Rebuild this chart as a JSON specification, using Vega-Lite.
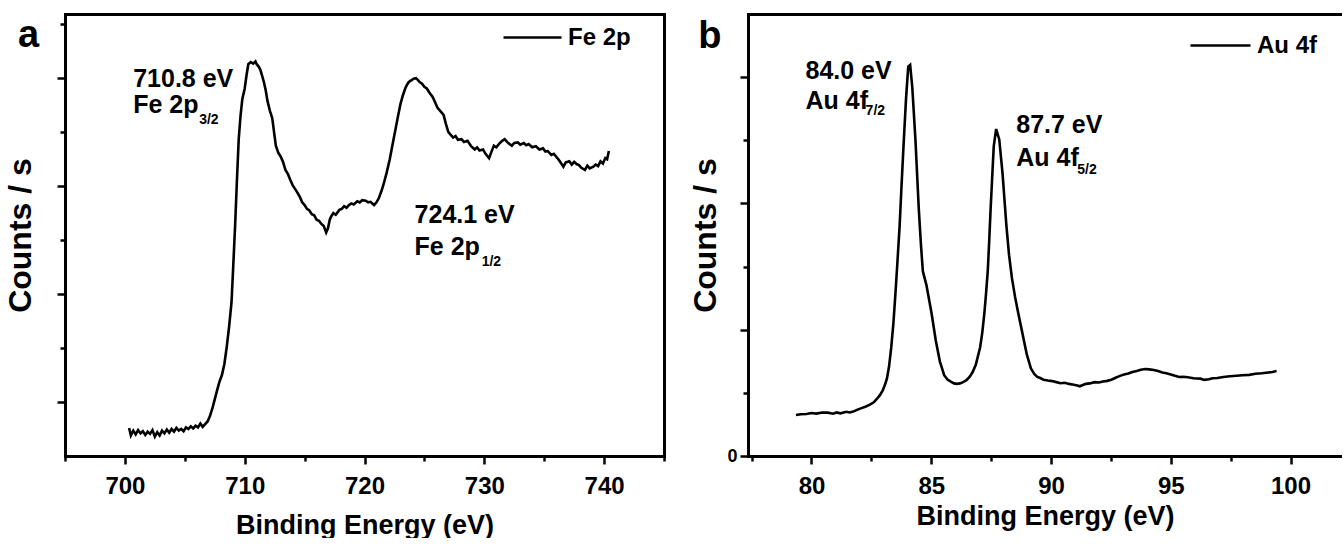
{
  "$schema": "https://vega.github.io/schema/vega-lite/v6.json",
  "padding": {"left": 4, "top": 7, "right": 0, "bottom": 0},
  "background": "white",
  "bounds": "flush",
  "spacing": 84,
  "resolve": {"scale": {"color": "independent"}, "legend": {"color": "independent"}},
  "config": {
    "font": "Liberation Sans",
    "view": {"stroke": null},
    "axis": {
      "domainColor": "black", "domainWidth": 3, "domainCap": "square",
      "tickColor": "black", "tickWidth": 2.5, "grid": false,
      "labelFont": "Liberation Sans", "labelFontWeight": "bold", "labelFontSize": 24, "labelColor": "black",
      "titleFont": "Liberation Sans", "titleFontWeight": "bold", "titleColor": "black"
    },
    "text": {"font": "Liberation Sans", "fontWeight": "bold", "color": "black"}
  },
  "datasets": {
    "fe": [
      {"be":700.35,"cps":0.52},{"be":700.5,"cps":0.38},{"be":700.7,"cps":0.47},{"be":700.9,"cps":0.40},{"be":701.1,"cps":0.48},{"be":701.3,"cps":0.42},{"be":701.5,"cps":0.46},{"be":701.7,"cps":0.39},{"be":701.9,"cps":0.45},{"be":702.1,"cps":0.41},{"be":702.3,"cps":0.48},{"be":702.5,"cps":0.36},{"be":702.7,"cps":0.44},{"be":702.9,"cps":0.38},{"be":703.1,"cps":0.47},{"be":703.3,"cps":0.42},{"be":703.5,"cps":0.49},{"be":703.7,"cps":0.43},{"be":703.9,"cps":0.50},{"be":704.1,"cps":0.45},{"be":704.3,"cps":0.52},{"be":704.5,"cps":0.47},{"be":704.7,"cps":0.50},{"be":704.9,"cps":0.46},{"be":705.1,"cps":0.53},{"be":705.3,"cps":0.50},{"be":705.5,"cps":0.55},{"be":705.7,"cps":0.51},{"be":705.9,"cps":0.56},{"be":706.1,"cps":0.53},{"be":706.3,"cps":0.60},{"be":706.5,"cps":0.54},{"be":706.7,"cps":0.59},{"be":706.9,"cps":0.64},{"be":707.1,"cps":0.74},{"be":707.3,"cps":0.88},{"be":707.5,"cps":1.05},{"be":707.7,"cps":1.22},{"be":707.9,"cps":1.38},{"be":708.1,"cps":1.50},{"be":708.3,"cps":1.70},{"be":708.5,"cps":2.02},{"be":708.7,"cps":2.40},{"be":708.9,"cps":2.85},{"be":709.05,"cps":3.55},{"be":709.2,"cps":4.27},{"be":709.35,"cps":5.10},{"be":709.5,"cps":5.87},{"be":709.65,"cps":6.30},{"be":709.8,"cps":6.61},{"be":710.0,"cps":6.81},{"be":710.15,"cps":7.05},{"be":710.3,"cps":7.26},{"be":710.5,"cps":7.30},{"be":710.7,"cps":7.27},{"be":710.9,"cps":7.31},{"be":711.0,"cps":7.26},{"be":711.15,"cps":7.22},{"be":711.3,"cps":7.16},{"be":711.45,"cps":7.05},{"be":711.6,"cps":6.93},{"be":711.75,"cps":6.78},{"be":711.9,"cps":6.58},{"be":712.1,"cps":6.40},{"be":712.3,"cps":6.26},{"be":712.45,"cps":6.00},{"be":712.6,"cps":5.75},{"be":712.8,"cps":5.62},{"be":713.0,"cps":5.55},{"be":713.2,"cps":5.45},{"be":713.4,"cps":5.30},{"be":713.6,"cps":5.23},{"be":713.8,"cps":5.12},{"be":714.0,"cps":5.02},{"be":714.2,"cps":4.95},{"be":714.4,"cps":4.88},{"be":714.6,"cps":4.80},{"be":714.8,"cps":4.70},{"be":715.0,"cps":4.65},{"be":715.2,"cps":4.58},{"be":715.4,"cps":4.55},{"be":715.6,"cps":4.48},{"be":715.8,"cps":4.46},{"be":716.0,"cps":4.38},{"be":716.2,"cps":4.36},{"be":716.4,"cps":4.30},{"be":716.6,"cps":4.26},{"be":716.8,"cps":4.14},{"be":716.95,"cps":4.22},{"be":717.1,"cps":4.38},{"be":717.2,"cps":4.43},{"be":717.4,"cps":4.50},{"be":717.6,"cps":4.47},{"be":717.9,"cps":4.56},{"be":718.1,"cps":4.58},{"be":718.3,"cps":4.63},{"be":718.5,"cps":4.60},{"be":718.7,"cps":4.65},{"be":718.9,"cps":4.68},{"be":719.1,"cps":4.66},{"be":719.4,"cps":4.72},{"be":719.6,"cps":4.70},{"be":719.8,"cps":4.74},{"be":720.1,"cps":4.73},{"be":720.3,"cps":4.70},{"be":720.5,"cps":4.71},{"be":720.8,"cps":4.65},{"be":721.0,"cps":4.70},{"be":721.2,"cps":4.78},{"be":721.4,"cps":4.90},{"be":721.6,"cps":5.04},{"be":721.85,"cps":5.25},{"be":722.1,"cps":5.49},{"be":722.35,"cps":5.78},{"be":722.6,"cps":6.07},{"be":722.8,"cps":6.30},{"be":723.0,"cps":6.52},{"be":723.2,"cps":6.68},{"be":723.4,"cps":6.81},{"be":723.55,"cps":6.88},{"be":723.7,"cps":6.93},{"be":723.9,"cps":6.96},{"be":724.1,"cps":6.99},{"be":724.3,"cps":7.00},{"be":724.45,"cps":6.97},{"be":724.6,"cps":6.93},{"be":724.8,"cps":6.90},{"be":725.0,"cps":6.84},{"be":725.2,"cps":6.81},{"be":725.4,"cps":6.74},{"be":725.7,"cps":6.65},{"be":725.9,"cps":6.55},{"be":726.1,"cps":6.45},{"be":726.3,"cps":6.40},{"be":726.6,"cps":6.32},{"be":726.8,"cps":6.15},{"be":727.0,"cps":6.00},{"be":727.2,"cps":5.95},{"be":727.4,"cps":5.90},{"be":727.6,"cps":5.93},{"be":727.8,"cps":5.86},{"be":728.1,"cps":5.87},{"be":728.3,"cps":5.82},{"be":728.6,"cps":5.84},{"be":728.9,"cps":5.74},{"be":729.2,"cps":5.68},{"be":729.4,"cps":5.72},{"be":729.6,"cps":5.66},{"be":729.9,"cps":5.68},{"be":730.1,"cps":5.60},{"be":730.4,"cps":5.52},{"be":730.6,"cps":5.64},{"be":730.8,"cps":5.75},{"be":731.0,"cps":5.72},{"be":731.3,"cps":5.80},{"be":731.5,"cps":5.84},{"be":731.7,"cps":5.87},{"be":731.9,"cps":5.82},{"be":732.1,"cps":5.78},{"be":732.3,"cps":5.75},{"be":732.5,"cps":5.80},{"be":732.8,"cps":5.81},{"be":733.0,"cps":5.77},{"be":733.3,"cps":5.80},{"be":733.5,"cps":5.76},{"be":733.7,"cps":5.78},{"be":734.0,"cps":5.72},{"be":734.3,"cps":5.74},{"be":734.6,"cps":5.68},{"be":734.9,"cps":5.70},{"be":735.1,"cps":5.64},{"be":735.3,"cps":5.65},{"be":735.6,"cps":5.58},{"be":735.8,"cps":5.60},{"be":736.1,"cps":5.52},{"be":736.3,"cps":5.46},{"be":736.6,"cps":5.36},{"be":736.8,"cps":5.44},{"be":737.1,"cps":5.46},{"be":737.3,"cps":5.40},{"be":737.5,"cps":5.45},{"be":737.7,"cps":5.41},{"be":737.9,"cps":5.39},{"be":738.1,"cps":5.34},{"be":738.4,"cps":5.30},{"be":738.6,"cps":5.38},{"be":738.8,"cps":5.33},{"be":739.1,"cps":5.36},{"be":739.3,"cps":5.40},{"be":739.5,"cps":5.37},{"be":739.7,"cps":5.46},{"be":739.9,"cps":5.42},{"be":740.1,"cps":5.52},{"be":740.25,"cps":5.50},{"be":740.4,"cps":5.65}
    ],
    "au": [
      {"be":79.35,"cps":0.648},{"be":79.55,"cps":0.660},{"be":79.79,"cps":0.665},{"be":80.0,"cps":0.680},{"be":80.2,"cps":0.672},{"be":80.45,"cps":0.690},{"be":80.68,"cps":0.687},{"be":80.9,"cps":0.670},{"be":81.05,"cps":0.690},{"be":81.21,"cps":0.676},{"be":81.45,"cps":0.700},{"be":81.6,"cps":0.690},{"be":81.74,"cps":0.703},{"be":81.9,"cps":0.730},{"be":82.09,"cps":0.758},{"be":82.25,"cps":0.780},{"be":82.44,"cps":0.813},{"be":82.6,"cps":0.850},{"be":82.71,"cps":0.895},{"be":82.85,"cps":0.960},{"be":82.97,"cps":1.033},{"be":83.06,"cps":1.120},{"be":83.15,"cps":1.225},{"be":83.24,"cps":1.420},{"be":83.33,"cps":1.719},{"be":83.42,"cps":2.100},{"be":83.50,"cps":2.542},{"be":83.59,"cps":3.080},{"be":83.68,"cps":3.640},{"be":83.75,"cps":4.200},{"be":83.82,"cps":4.738},{"be":83.89,"cps":5.250},{"be":83.95,"cps":5.672},{"be":84.04,"cps":6.166},{"be":84.12,"cps":6.193},{"be":84.21,"cps":5.836},{"be":84.34,"cps":5.013},{"be":84.48,"cps":3.915},{"be":84.57,"cps":3.350},{"be":84.65,"cps":2.927},{"be":84.80,"cps":2.707},{"be":85.01,"cps":2.268},{"be":85.19,"cps":1.829},{"be":85.36,"cps":1.499},{"be":85.54,"cps":1.280},{"be":85.68,"cps":1.210},{"be":85.80,"cps":1.181},{"be":85.95,"cps":1.150},{"be":86.07,"cps":1.142},{"be":86.2,"cps":1.150},{"be":86.33,"cps":1.170},{"be":86.47,"cps":1.200},{"be":86.60,"cps":1.252},{"be":86.73,"cps":1.330},{"be":86.86,"cps":1.444},{"be":87.04,"cps":1.719},{"be":87.13,"cps":1.950},{"be":87.22,"cps":2.268},{"be":87.29,"cps":2.580},{"be":87.36,"cps":2.927},{"be":87.42,"cps":3.400},{"be":87.48,"cps":3.915},{"be":87.55,"cps":4.450},{"be":87.61,"cps":4.903},{"be":87.71,"cps":5.178},{"be":87.84,"cps":5.013},{"be":87.98,"cps":4.464},{"be":88.06,"cps":4.050},{"be":88.14,"cps":3.640},{"be":88.25,"cps":3.180},{"be":88.37,"cps":2.817},{"be":88.50,"cps":2.520},{"be":88.63,"cps":2.268},{"be":88.81,"cps":1.938},{"be":88.99,"cps":1.609},{"be":89.16,"cps":1.389},{"be":89.3,"cps":1.300},{"be":89.43,"cps":1.252},{"be":89.55,"cps":1.235},{"be":89.69,"cps":1.208},{"be":89.87,"cps":1.195},{"be":90.05,"cps":1.186},{"be":90.22,"cps":1.170},{"be":90.40,"cps":1.153},{"be":90.58,"cps":1.160},{"be":90.75,"cps":1.142},{"be":90.95,"cps":1.130},{"be":91.1,"cps":1.115},{"be":91.20,"cps":1.104},{"be":91.33,"cps":1.125},{"be":91.46,"cps":1.142},{"be":91.62,"cps":1.150},{"be":91.82,"cps":1.170},{"be":92.0,"cps":1.165},{"be":92.17,"cps":1.181},{"be":92.35,"cps":1.190},{"be":92.52,"cps":1.208},{"be":92.7,"cps":1.240},{"be":92.88,"cps":1.269},{"be":93.05,"cps":1.290},{"be":93.23,"cps":1.307},{"be":93.4,"cps":1.330},{"be":93.58,"cps":1.345},{"be":93.75,"cps":1.365},{"be":93.94,"cps":1.378},{"be":94.1,"cps":1.372},{"be":94.29,"cps":1.362},{"be":94.47,"cps":1.345},{"be":94.65,"cps":1.323},{"be":94.82,"cps":1.310},{"be":95.00,"cps":1.291},{"be":95.18,"cps":1.270},{"be":95.35,"cps":1.252},{"be":95.52,"cps":1.255},{"be":95.71,"cps":1.247},{"be":95.95,"cps":1.232},{"be":96.24,"cps":1.225},{"be":96.4,"cps":1.205},{"be":96.59,"cps":1.214},{"be":96.75,"cps":1.232},{"be":96.94,"cps":1.236},{"be":97.2,"cps":1.250},{"be":97.47,"cps":1.263},{"be":97.75,"cps":1.272},{"be":98.00,"cps":1.280},{"be":98.27,"cps":1.285},{"be":98.54,"cps":1.302},{"be":98.8,"cps":1.310},{"be":99.07,"cps":1.323},{"be":99.25,"cps":1.330},{"be":99.42,"cps":1.345}
    ],
    "annA": [
      {"x":700.69,"y":6.83,"t":"710.8 eV","k":"main"},
      {"x":700.69,"y":6.35,"t":"Fe 2p","k":"main"},
      {"x":706.2,"y":6.15,"t":"3/2","k":"sub"},
      {"x":724.18,"y":4.31,"t":"724.1 eV","k":"main"},
      {"x":724.18,"y":3.72,"t":"Fe 2p","k":"main"},
      {"x":729.78,"y":3.52,"t":"1/2","k":"sub"},
      {"x":691.95,"y":7.57,"t":"a","k":"letter"}
    ],
    "annB": [
      {"x":79.75,"y":5.975,"t":"84.0 eV","k":"main"},
      {"x":79.75,"y":5.50,"t":"Au 4f","k":"main"},
      {"x":82.26,"y":5.405,"t":"7/2","k":"sub"},
      {"x":88.55,"y":5.12,"t":"87.7 eV","k":"main"},
      {"x":88.55,"y":4.60,"t":"Au 4f","k":"main"},
      {"x":91.1,"y":4.47,"t":"5/2","k":"sub"},
      {"x":75.76,"y":6.465,"t":"b","k":"letter"}
    ]
  },
  "hconcat": [
    {
      "width": 599,
      "height": 442,
      "resolve": {"axis": {"x": "independent", "y": "independent"}},
      "layer": [
        {
          "data": {"name": "fe"},
          "mark": {"type": "line", "strokeWidth": 2.6, "color": "black"},
          "encoding": {
            "x": {"field": "be", "type": "quantitative", "scale": {"domain": [695, 745], "nice": false, "zero": false},
              "axis": {"orient": "bottom", "values": [700, 710, 720, 730, 740], "tickSize": 8, "labelPadding": 10, "title": "Binding Energy (eV)", "titleFontSize": 27, "titlePadding": 14}},
            "y": {"field": "cps", "type": "quantitative", "scale": {"domain": [0, 8.19], "nice": false, "zero": false},
              "axis": {"orient": "left", "values": [1, 3, 5, 7], "tickSize": 8, "labels": false, "title": "Counts / s", "titleFontSize": 32, "titlePadding": 18}},
            "color": {"datum": "Fe 2p", "type": "nominal", "scale": {"range": ["black"]},
              "legend": {"title": null, "orient": "none", "legendX": 437, "legendY": -7, "symbolType": "stroke", "symbolSize": 3364, "symbolStrokeWidth": 2.6, "symbolStrokeColor": "black", "labelFontSize": 24, "labelFont": "Liberation Sans", "labelFontWeight": "bold", "labelColor": "black", "labelOffset": 5, "padding": 0}}
          }
        },
        {
          "data": {"name": "fe"},
          "mark": {"type": "point", "opacity": 0},
          "encoding": {
            "x": {"field": "be", "type": "quantitative", "scale": {"domain": [695, 745], "nice": false, "zero": false},
              "axis": {"orient": "bottom", "values": [695, 705, 715, 725, 735, 745], "tickSize": 5, "labels": false, "domain": false, "title": null}},
            "y": {"field": "cps", "type": "quantitative", "scale": {"domain": [0, 8.19], "nice": false, "zero": false},
              "axis": {"orient": "left", "values": [2, 4, 6, 8], "tickSize": 5, "labels": false, "domain": false, "title": null}}
          }
        },
        {
          "data": {"name": "fe"},
          "mark": {"type": "point", "opacity": 0},
          "encoding": {
            "x": {"field": "be", "type": "quantitative", "scale": {"domain": [695, 745], "nice": false, "zero": false},
              "axis": {"orient": "top", "ticks": false, "labels": false, "domain": true, "title": null}},
            "y": {"field": "cps", "type": "quantitative", "scale": {"domain": [0, 8.19], "nice": false, "zero": false},
              "axis": {"orient": "right", "ticks": false, "labels": false, "domain": true, "title": null}}
          }
        },
        {
          "data": {"name": "annA"},
          "transform": [{"filter": "datum.k == 'main'"}],
          "mark": {"type": "text", "align": "left", "baseline": "alphabetic", "fontSize": 25},
          "encoding": {
            "x": {"field": "x", "type": "quantitative", "scale": {"domain": [695, 745], "nice": false, "zero": false}, "axis": null},
            "y": {"field": "y", "type": "quantitative", "scale": {"domain": [0, 8.19], "nice": false, "zero": false}, "axis": null},
            "text": {"field": "t"}
          }
        },
        {
          "data": {"name": "annA"},
          "transform": [{"filter": "datum.k == 'sub'"}],
          "mark": {"type": "text", "align": "left", "baseline": "alphabetic", "fontSize": 14},
          "encoding": {
            "x": {"field": "x", "type": "quantitative", "scale": {"domain": [695, 745], "nice": false, "zero": false}, "axis": null},
            "y": {"field": "y", "type": "quantitative", "scale": {"domain": [0, 8.19], "nice": false, "zero": false}, "axis": null},
            "text": {"field": "t"}
          }
        },
        {
          "data": {"name": "annA"},
          "transform": [{"filter": "datum.k == 'letter'"}],
          "mark": {"type": "text", "align": "center", "baseline": "alphabetic", "fontSize": 38},
          "encoding": {
            "x": {"field": "x", "type": "quantitative", "scale": {"domain": [695, 745], "nice": false, "zero": false}, "axis": null},
            "y": {"field": "y", "type": "quantitative", "scale": {"domain": [0, 8.19], "nice": false, "zero": false}, "axis": null},
            "text": {"field": "t"}
          }
        }
      ]
    },
    {
      "width": 594,
      "height": 442,
      "resolve": {"axis": {"x": "independent", "y": "independent"}},
      "layer": [
        {
          "data": {"name": "au"},
          "mark": {"type": "line", "strokeWidth": 2.6, "color": "black"},
          "encoding": {
            "x": {"field": "be", "type": "quantitative", "scale": {"domain": [77.35, 102.15], "nice": false, "zero": false},
              "axis": {"orient": "bottom", "values": [80, 85, 90, 95, 100], "tickSize": 8, "labelPadding": 10, "title": "Binding Energy (eV)", "titleFontSize": 27, "titlePadding": 5}},
            "y": {"field": "cps", "type": "quantitative", "scale": {"domain": [0, 7], "nice": false, "zero": false},
              "axis": {"orient": "left", "values": [0, 2, 4, 6], "tickSize": 8, "labelPadding": 3, "labelFontSize": 18, "labelExpr": "datum.value == 0 ? '0' : ''", "title": "Counts / s", "titleFontSize": 32, "titlePadding": 4}},
            "color": {"datum": "Au 4f", "type": "nominal", "scale": {"range": ["black"]},
              "legend": {"title": null, "orient": "none", "legendX": 441, "legendY": 0, "symbolType": "stroke", "symbolSize": 3600, "symbolStrokeWidth": 2.6, "symbolStrokeColor": "black", "labelFontSize": 24, "labelFont": "Liberation Sans", "labelFontWeight": "bold", "labelColor": "black", "labelOffset": 5, "padding": 0}}
          }
        },
        {
          "data": {"name": "au"},
          "mark": {"type": "point", "opacity": 0},
          "encoding": {
            "x": {"field": "be", "type": "quantitative", "scale": {"domain": [77.35, 102.15], "nice": false, "zero": false},
              "axis": {"orient": "bottom", "values": [77.5, 82.5, 87.5, 92.5, 97.5], "tickSize": 5, "labels": false, "domain": false, "title": null}},
            "y": {"field": "cps", "type": "quantitative", "scale": {"domain": [0, 7], "nice": false, "zero": false},
              "axis": {"orient": "left", "values": [1, 3, 5], "tickSize": 5, "labels": false, "domain": false, "title": null}}
          }
        },
        {
          "data": {"name": "au"},
          "mark": {"type": "point", "opacity": 0},
          "encoding": {
            "x": {"field": "be", "type": "quantitative", "scale": {"domain": [77.35, 102.15], "nice": false, "zero": false},
              "axis": {"orient": "top", "ticks": false, "labels": false, "domain": true, "title": null}},
            "y": {"field": "cps", "type": "quantitative", "scale": {"domain": [0, 7], "nice": false, "zero": false}, "axis": null}
          }
        },
        {
          "data": {"name": "annB"},
          "transform": [{"filter": "datum.k == 'main'"}],
          "mark": {"type": "text", "align": "left", "baseline": "alphabetic", "fontSize": 25},
          "encoding": {
            "x": {"field": "x", "type": "quantitative", "scale": {"domain": [77.35, 102.15], "nice": false, "zero": false}, "axis": null},
            "y": {"field": "y", "type": "quantitative", "scale": {"domain": [0, 7], "nice": false, "zero": false}, "axis": null},
            "text": {"field": "t"}
          }
        },
        {
          "data": {"name": "annB"},
          "transform": [{"filter": "datum.k == 'sub'"}],
          "mark": {"type": "text", "align": "left", "baseline": "alphabetic", "fontSize": 14},
          "encoding": {
            "x": {"field": "x", "type": "quantitative", "scale": {"domain": [77.35, 102.15], "nice": false, "zero": false}, "axis": null},
            "y": {"field": "y", "type": "quantitative", "scale": {"domain": [0, 7], "nice": false, "zero": false}, "axis": null},
            "text": {"field": "t"}
          }
        },
        {
          "data": {"name": "annB"},
          "transform": [{"filter": "datum.k == 'letter'"}],
          "mark": {"type": "text", "align": "center", "baseline": "alphabetic", "fontSize": 38},
          "encoding": {
            "x": {"field": "x", "type": "quantitative", "scale": {"domain": [77.35, 102.15], "nice": false, "zero": false}, "axis": null},
            "y": {"field": "y", "type": "quantitative", "scale": {"domain": [0, 7], "nice": false, "zero": false}, "axis": null},
            "text": {"field": "t"}
          }
        }
      ]
    }
  ]
}
